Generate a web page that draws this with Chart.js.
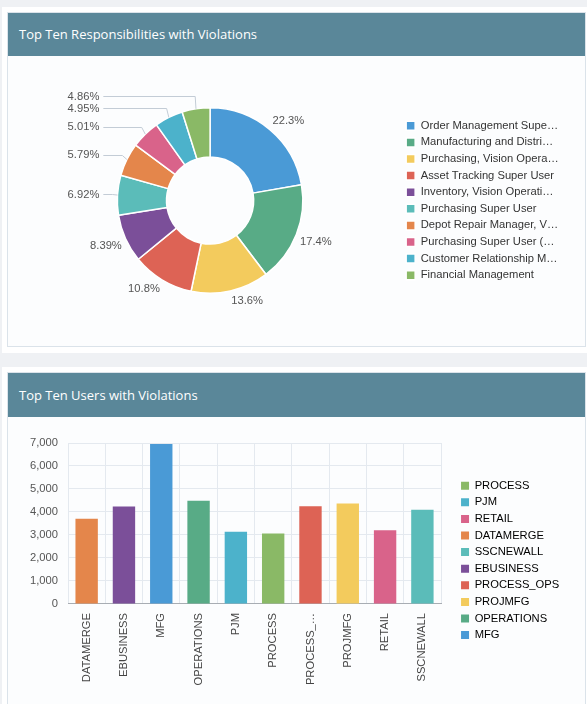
<!DOCTYPE html>
<html>
<head>
<meta charset="utf-8">
<script src="https://cdn.jsdelivr.net/npm/chart.js@4"></script>
<style>
  html, body { margin: 0; padding: 0; width: 587px; height: 704px; overflow: hidden; background: #eff1f4; }
  .card { position: absolute; left: 2px; width: 600px; background: #ffffff; }
  .panel { position: absolute; left: 7px; width: 579px; box-sizing: border-box; border: 1px solid #dbe3ea; background: #fcfdfe; overflow: hidden; }
  .hdr { position: absolute; left: 0; top: 0; width: 100%; background: #5a8799; color: #ffffff;
         font-family: "Open Sans", "Noto Sans", sans-serif; font-size: 13px; padding-left: 11px; box-sizing: border-box; }
  canvas { position: absolute; left: 0; }
</style>
</head>
<body>
<div class="card" style="top:7px;height:346px;"></div>
<div class="panel" style="top:12px;height:335px;">
  <div class="hdr" style="height:43px;line-height:43px;">Top Ten Responsibilities with Violations</div>
  <canvas id="donut" width="577" height="290" style="top:43px;"></canvas>
</div>
<div class="card" style="top:367px;height:400px;"></div>
<div class="panel" style="top:372px;height:400px;">
  <div class="hdr" style="height:44px;line-height:44px;">Top Ten Users with Violations</div>
  <canvas id="bars" width="577" height="290" style="top:44px;"></canvas>
</div>
<script>
// ---------- data ----------
const responsibilityNames = [
  "Order Management Supe\u2026",
  "Manufacturing and Distri\u2026",
  "Purchasing, Vision Opera\u2026",
  "Asset Tracking Super User",
  "Inventory, Vision Operati\u2026",
  "Purchasing Super User",
  "Depot Repair Manager, V\u2026",
  "Purchasing Super User (\u2026",
  "Customer Relationship M\u2026",
  "Financial Management"
];
const responsibilityPercents = [22.3, 17.4, 13.6, 10.8, 8.39, 6.92, 5.79, 5.01, 4.95, 4.86];

const userNames = ["DATAMERGE", "EBUSINESS", "MFG", "OPERATIONS", "PJM", "PROCESS", "PROCESS_OPS", "PROJMFG", "RETAIL", "SSCNEWALL"];
const userViolations = [3710, 4240, 6960, 4490, 3140, 3070, 4250, 4370, 3210, 4100];
const userAxisTicks = [0, 1000, 2000, 3000, 4000, 5000, 6000, 7000];

// ---------- styles ----------
const palette = ["#4a9ad6", "#58ab86", "#f3cb5d", "#dd6355", "#7b4f99", "#5bbcb9", "#e4864b", "#d9638a", "#4cb2cb", "#8ab966"];
const FONT = '"Liberation Sans", Arial, sans-serif';
const FS = 11.2;

// colour by descending rank
const rankOrder = userNames.map((n, i) => i).sort((a, b) => userViolations[b] - userViolations[a]);
const userColors = new Array(userNames.length);
rankOrder.forEach((idx, rank) => { userColors[idx] = palette[rank]; });

// ---------- donut labels plugin ----------
const donutLabels = {
  id: 'donutLabels',
  afterDatasetsDraw(chart) {
    const ctx = chart.ctx;
    const meta = chart.getDatasetMeta(0);
    const data = chart.data.datasets[0].data;
    ctx.save();
    ctx.font = FS + 'px ' + FONT;
    ctx.fillStyle = '#555555';
    ctx.strokeStyle = '#c3ccd6';
    ctx.lineWidth = 1;
    const leaders = [];
    meta.data.forEach((arc, i) => {
      const p = arc.getProps(['x', 'y', 'startAngle', 'endAngle', 'outerRadius'], true);
      const a = (p.startAngle + p.endAngle) / 2;
      const dx = Math.cos(a), dy = Math.sin(a);
      const text = data[i] + '%';
      if (data[i] < 7) {
        leaders.push({ text, dx, dy, x: p.x, y: p.y, r: p.outerRadius, ly: p.y + (p.outerRadius + 10) * dy });
      } else {
        const px = p.x + (p.outerRadius + 4) * dx, py = p.y + (p.outerRadius + 4) * dy;
        ctx.textAlign = dx >= 0 ? 'left' : 'right';
        ctx.textBaseline = dy >= 0 ? 'top' : 'bottom';
        ctx.fillText(text, px, py);
      }
    });
    leaders.sort((p, q) => q.ly - p.ly);
    for (let k = 1; k < leaders.length; k++) {
      if (leaders[k].ly > leaders[k - 1].ly - 12) leaders[k].ly = leaders[k - 1].ly - 12;
    }
    leaders.forEach(L => {
      const colX = L.x - L.r - 18;
      ctx.textAlign = 'right';
      ctx.textBaseline = 'middle';
      ctx.fillText(L.text, colX, L.ly);
      const ly = Math.round(L.ly) + 0.5;
      ctx.beginPath();
      ctx.moveTo(colX + 4, ly);
      ctx.lineTo(L.x + (L.r + 5) * L.dx, ly);
      ctx.lineTo(L.x + L.r * L.dx, L.y + L.r * L.dy);
      ctx.stroke();
    });
    ctx.restore();
  }
};

new Chart(document.getElementById('donut'), {
  type: 'doughnut',
  data: {
    labels: responsibilityNames,
    datasets: [{
      data: responsibilityPercents,
      backgroundColor: palette,
      borderColor: '#ffffff',
      borderWidth: 1.5
    }]
  },
  options: {
    responsive: false,
    animation: false,
    devicePixelRatio: 1,
    cutout: '47%',
    layout: { padding: { left: 11.4, right: 16.4, top: 51, bottom: 52 } },
    plugins: {
      tooltip: { enabled: false },
      legend: {
        position: 'right',
        labels: {
          boxWidth: 9, boxHeight: 9, padding: 5.4,
          color: '#333333',
          font: { family: FONT, size: FS }
        }
      }
    }
  },
  plugins: [donutLabels]
});

new Chart(document.getElementById('bars'), {
  type: 'bar',
  data: {
    labels: userNames,
    datasets: [{
      data: userViolations,
      backgroundColor: userColors,
      borderWidth: 0,
      categoryPercentage: 1,
      barPercentage: 0.6
    }]
  },
  options: {
    responsive: false,
    animation: false,
    devicePixelRatio: 1,
    layout: { padding: { left: 0, right: 15.8, top: 9.3, bottom: 12.5 } },
    scales: {
      x: {
        grid: { color: '#e4e9ef', drawTicks: false, offset: true },
        border: { color: '#a8adb3' },
        ticks: {
          color: '#444444', font: { family: FONT, size: FS },
          minRotation: 90, maxRotation: 90, padding: 9, autoSkip: false,
          callback: function (v) {
            const s = this.getLabelForValue(v);
            return s.length > 10 ? s.slice(0, 8) + '\u2026' : s;
          }
        }
      },
      y: {
        min: userAxisTicks[0], max: userAxisTicks[userAxisTicks.length - 1],
        grid: { color: '#e4e9ef', drawTicks: false },
        border: { display: false },
        afterBuildTicks: s => { s.ticks = userAxisTicks.map(v => ({ value: v })); },
        ticks: {
          color: '#555555', font: { family: FONT, size: FS }, padding: 10,
          callback: v => v.toLocaleString('en-US')
        },
        afterFit: s => { s.width = 60; }
      },
      gapRight: {
        axis: 'y', position: 'right', display: false,
        afterFit: s => { s.width = 14.6; }
      },
      gapTop: {
        axis: 'x', position: 'top', display: false,
        afterFit: s => { s.height = 16.7; }
      }
    },
    plugins: {
      tooltip: { enabled: false },
      legend: {
        position: 'right',
        labels: {
          boxWidth: 8, boxHeight: 8, padding: 5.4,
          color: '#444444',
          font: { family: FONT, size: FS },
          generateLabels: chart => {
            const ds = chart.data.datasets[0];
            return chart.data.labels
              .map((name, i) => ({ name, i, v: ds.data[i] }))
              .sort((a, b) => a.v - b.v)
              .map(o => ({
                text: o.name, fillStyle: ds.backgroundColor[o.i], strokeStyle: ds.backgroundColor[o.i],
                lineWidth: 0, hidden: false, index: o.i, datasetIndex: 0
              }));
          }
        }
      }
    }
  }
});
</script>
</body>
</html>
